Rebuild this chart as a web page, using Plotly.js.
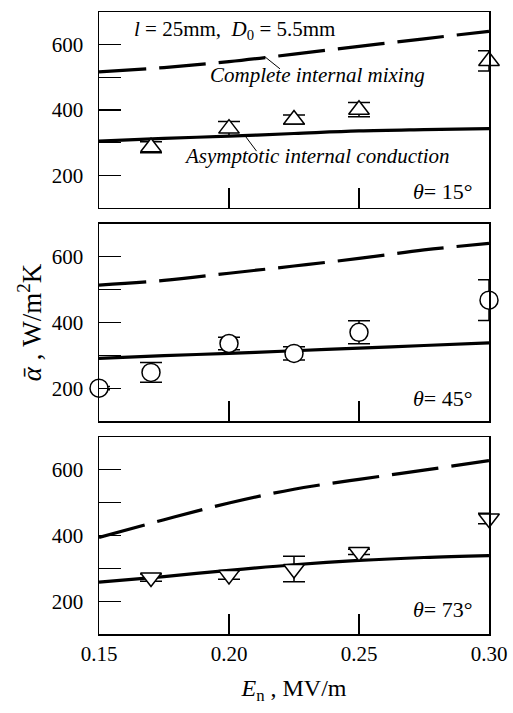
<!DOCTYPE html>
<html><head><meta charset="utf-8">
<script src="https://cdn.plot.ly/plotly-3.0.1.min.js"></script>
<style>body{margin:0;background:#fff}</style>
</head><body><div id="chart" style="width:513px;height:713px"></div>
<script>
// Curves (model lines)
const E_curve = [0.15, 0.175, 0.20, 0.225, 0.25, 0.275, 0.30];
const mix15  = [517, 530, 548, 571, 595, 618, 641];
const cond15 = [305, 313, 320, 328, 336, 340, 343];
const mix45  = [514, 528, 550, 572, 595, 621, 641];
const cond45 = [291, 299, 306, 314, 322, 330, 338];
const mix73  = [394, 448, 499, 541, 571, 599, 628];
const cond73 = [258, 275, 294, 311, 324, 333, 339];

// Measurements
const E15   = [0.17, 0.20, 0.225, 0.25, 0.30];
const a15   = [286, 343, 371, 401, 550];
const err15 = [17, 22, 14, 22, 31];
const E45   = [0.15, 0.17, 0.20, 0.225, 0.25, 0.30];
const a45   = [200, 248, 336, 306, 370, 468];
const err45 = [5, 30, 19, 20, 35, 62];
const E73   = [0.17, 0.20, 0.225, 0.25, 0.30];
const a73   = [272, 280, 298, 350, 452];
const err73 = [11, 13, 39, 8, 16];

const xTicks = [0.15, 0.20, 0.25, 0.30];
const xTickText = ['0.15', '0.20', '0.25', '0.30'];
const yTicks = [200, 400, 600];
const yTickText = ['200', '400', '600'];
const yMinorTicks = [300, 500];

const FONT = 'Liberation Serif, Times New Roman, serif';
const panels = [
  {mix: mix15, cond: cond15, E: E15, a: a15, err: err15, sym: 'triangle-up', size: 18, xa: 'x', ya: 'y'},
  {mix: mix45, cond: cond45, E: E45, a: a45, err: err45, sym: 'circle', size: 18, xa: 'x2', ya: 'y2'},
  {mix: mix73, cond: cond73, E: E73, a: a73, err: err73, sym: 'triangle-down', size: 18, xa: 'x3', ya: 'y3'}
];
const traces = [];
panels.forEach(p => {
  traces.push({x: E_curve, y: p.mix, xaxis: p.xa, yaxis: p.ya, mode: 'lines', line: {color: '#000', width: 3.2, dash: '47px,13px', shape: 'spline'}, hoverinfo: 'skip', showlegend: false});
  traces.push({x: E_curve, y: p.cond, xaxis: p.xa, yaxis: p.ya, mode: 'lines', line: {color: '#000', width: 3.2, shape: 'spline'}, hoverinfo: 'skip', showlegend: false});
  traces.push({x: p.E, y: p.a, xaxis: p.xa, yaxis: p.ya, mode: 'markers', cliponaxis: false,
    marker: {symbol: p.sym, size: p.size, color: '#fff', line: {color: '#000', width: 1.5}},
    error_y: {type: 'data', array: p.err, visible: true, color: '#000', thickness: 1.5, width: 11},
    showlegend: false});
});

function xax(show, anchor) {
  return {range: [0.15, 0.30], anchor: anchor, showline: true, mirror: true, linecolor: '#000', linewidth: 1.5,
    ticks: 'inside', ticklen: 20, tickwidth: 1.3, tickcolor: '#000', tickvals: xTicks, ticktext: xTickText,
    showticklabels: show, showgrid: false, zeroline: false, tickfont: {family: FONT, size: 21, color: '#000'}};
}
function yax(domain, anchor) {
  return {range: [100, 700], domain: domain, anchor: anchor, showline: true, mirror: true, linecolor: '#000', linewidth: 1.5,
    ticks: 'inside', ticklen: 22, tickwidth: 1.3, tickcolor: '#000', tickvals: yTicks, ticktext: yTickText,
    minor: {tickvals: yMinorTicks, ticks: 'inside', ticklen: 22, tickwidth: 1.3, tickcolor: '#000', showgrid: false},
    showgrid: false, zeroline: false, ticklabelstandoff: 10, tickfont: {family: FONT, size: 21, color: '#000'}};
}
const xa1 = xax(false, 'y'), xa2 = xax(false, 'y2'), xa3 = xax(true, 'y3');
xa3.title = {text: '<i>E</i><sub>n</sub> , MV/m', font: {family: FONT, size: 24, color: '#000'}, standoff: 14};
const ya1 = yax([0.6849, 1], 'x'), ya2 = yax([0.3424, 0.6592], 'x2'), ya3 = yax([0, 0.3167], 'x3');
ya2.title = {text: '<i>ᾱ</i> , W/m<sup>2</sup>K', font: {family: FONT, size: 27, color: '#000'}, standoff: 2};

const ann = (text, x, y, xa, ya, anchor, size) => ({text: text, x: x, y: y, xref: xa, yref: ya, xanchor: anchor, yanchor: 'middle', showarrow: false,
  font: {family: FONT, size: size, color: '#000'}});
const layout = {
  width: 513, height: 713, margin: {l: 99, r: 24, t: 12, b: 79},
  paper_bgcolor: '#fff', plot_bgcolor: '#fff', showlegend: false,
  xaxis: xa1, xaxis2: xa2, xaxis3: xa3, yaxis: ya1, yaxis2: ya2, yaxis3: ya3,
  annotations: [
    ann('<i>l</i> = 25mm,  <i>D</i><sub>0</sub> = 5.5mm', 0.1626, 646, 'x', 'y', 'left', 21),
    ann('<i>Complete internal mixing</i>', 0.1919, 506, 'x', 'y', 'left', 21),
    ann('<i>Asymptotic internal conduction</i>', 0.1818, 259, 'x', 'y', 'left', 21),
    ann('<i>θ</i>= 15°', 0.2946, 149, 'x', 'y', 'right', 22),
    ann('<i>θ</i>= 45°', 0.2946, 170, 'x2', 'y2', 'right', 22),
    ann('<i>θ</i>= 73°', 0.2946, 175, 'x3', 'y3', 'right', 22)
  ],
  shapes: [
    {type: 'line', xref: 'x', yref: 'y', x0: 0.2138, y0: 563, x1: 0.2196, y1: 526, line: {color: '#000', width: 1}},
    {type: 'line', xref: 'x', yref: 'y', x0: 0.2058, y0: 325, x1: 0.2106, y1: 274, line: {color: '#000', width: 1}}
  ]
};
Plotly.newPlot('chart', traces, layout, {displayModeBar: false, staticPlot: true});
</script></body></html>
